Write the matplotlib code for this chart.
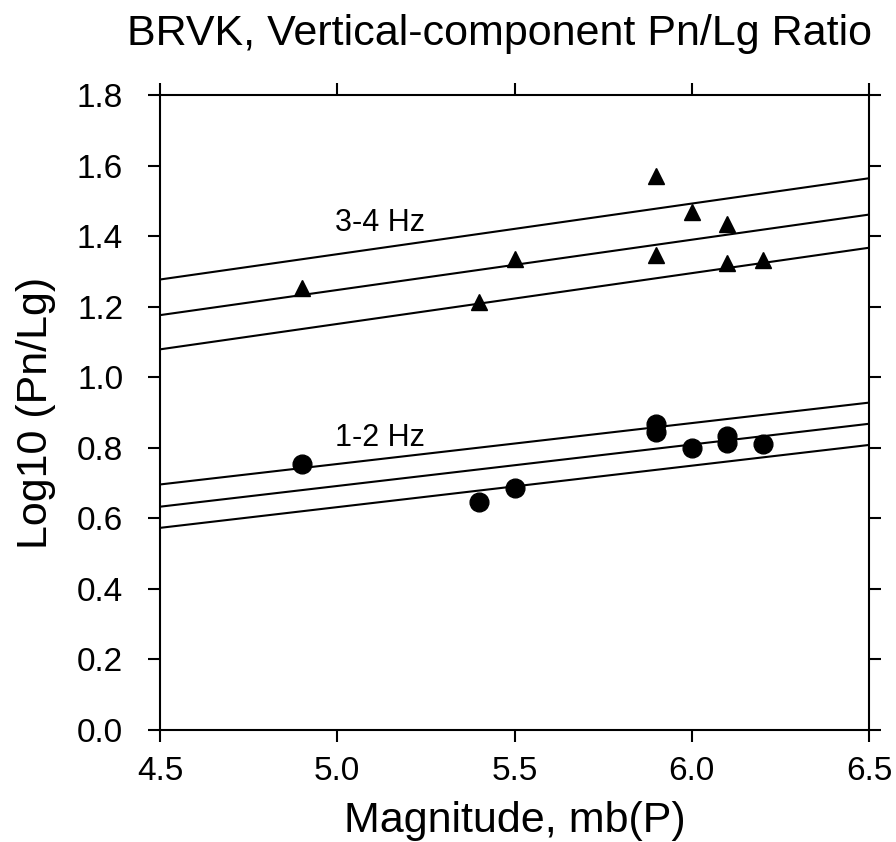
import matplotlib
matplotlib.use("Agg")
import matplotlib.pyplot as plt
import numpy as np

plt.rcParams['font.family'] = ['Liberation Sans', 'DejaVu Sans']

# Data
mag_34 = [4.9, 5.4, 5.5, 5.9, 5.9, 6.0, 6.1, 6.1, 6.2]
ratio_34 = [1.253, 1.213, 1.335, 1.57, 1.346, 1.468, 1.434, 1.324, 1.332]
mag_12 = [4.9, 5.4, 5.5, 5.9, 5.9, 6.0, 6.1, 6.1, 6.2]
ratio_12 = [0.754, 0.647, 0.685, 0.867, 0.845, 0.798, 0.832, 0.814, 0.811]

line_x = [4.5, 6.5]
lines_34 = [[1.277, 1.564], [1.176, 1.461], [1.079, 1.367]]
lines_12 = [[0.696, 0.928], [0.633, 0.868], [0.573, 0.808]]

xticks = [4.5, 5.0, 5.5, 6.0, 6.5]
yticks = [0.0, 0.2, 0.4, 0.6, 0.8, 1.0, 1.2, 1.4, 1.6, 1.8]

fig = plt.figure(figsize=(8.96, 8.42), dpi=100)
ax = fig.add_axes([160/896, 112/842, (869-160)/896, (730-95)/842])

for ly in lines_34:
    ax.plot(line_x, ly, color='black', lw=1.5)
for ly in lines_12:
    ax.plot(line_x, ly, color='black', lw=1.5)

ax.plot(mag_34, ratio_34, linestyle='none', marker='^', color='black', markersize=12)
ax.plot(mag_12, ratio_12, linestyle='none', marker='o', color='black', markersize=13.5)

ax.text(4.994, 1.437, '3-4 Hz', fontsize=22, va='center', ha='left')
ax.text(4.994, 0.829, '1-2 Hz', fontsize=22, va='center', ha='left')

ax.set_xlim(4.5, 6.5)
ax.set_ylim(0.0, 1.8)
ax.set_xticks(xticks)
ax.set_xticklabels([f'{v:.1f}' for v in xticks])
ax.set_yticks(yticks)
ax.set_yticklabels([f'{v:.1f}' for v in yticks])
ax.tick_params(axis='both', direction='out', length=8.5, width=1.5, labelsize=24,
               top=True, right=True, labeltop=False, labelright=False)
ax.tick_params(axis='x', pad=10)
ax.tick_params(axis='y', pad=18)
for s in ax.spines.values():
    s.set_linewidth(1.5)

ax.set_xlabel('Magnitude, mb(P)', fontsize=31)
ax.xaxis.label.set_va('baseline')
ax.xaxis.set_label_coords(0.5, -(832 - 730) / 635)
ax.set_ylabel('Log10 (Pn/Lg)', fontsize=31)
ax.yaxis.set_label_coords(-(160 - 56) / 709, 0.5)

fig.text(127/896, 1 - 45/842, 'BRVK, Vertical-component Pn/Lg Ratio', fontsize=31,
         ha='left', va='baseline')

fig.savefig('out.png', dpi=100)
